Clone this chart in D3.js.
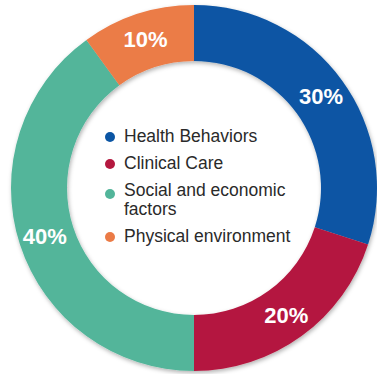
<!DOCTYPE html>
<html>
<head>
<meta charset="utf-8">
<script src="https://cdn.jsdelivr.net/npm/d3@7"></script>
<style>
  body { margin: 0; background: #fff; }
  svg { display: block; }
</style>
</head>
<body>
<div id="donut"></div>
<script>
// chart data
const categories = ["Health Behaviors", "Clinical Care", "Social and economic factors", "Physical environment"];
const shares = [30, 20, 40, 10];
const sliceLabels = ["30%", "20%", "40%", "10%"];
const legendLines = [["Health Behaviors"], ["Clinical Care"], ["Social and economic", "factors"], ["Physical environment"]];
const colors = ["#0b55a4", "#b4183f", "#52b59a", "#eb7b46"];

const width = 377, height = 374;
const cx = 194, cy = 188;
const outerR = 183, innerR = 127;

const svg = d3.select("#donut")
    .append("svg")
    .attr("width", width)
    .attr("height", height);

// soft shadow under the ring
const defs = svg.append("defs");
const shadow = defs.append("filter")
    .attr("id", "ringShadow")
    .attr("x", "-10%").attr("y", "-10%")
    .attr("width", "120%").attr("height", "120%");
shadow.append("feDropShadow")
    .attr("dx", 1).attr("dy", 2)
    .attr("stdDeviation", 2)
    .attr("flood-color", "#000")
    .attr("flood-opacity", 0.3);

const g = svg.append("g")
    .attr("transform", "translate(" + cx + "," + cy + ")");

const data = categories.map((c, i) => ({name: c, value: shares[i], label: sliceLabels[i], color: colors[i], lines: legendLines[i]}));

const pie = d3.pie()
    .sort(null)
    .value(d => d.value);

const arc = d3.arc()
    .innerRadius(innerR)
    .outerRadius(outerR);

const labelArc = d3.arc()
    .innerRadius((innerR + outerR) / 2 + 2)
    .outerRadius((innerR + outerR) / 2 + 2);

const arcs = pie(data);

g.append("g")
    .attr("filter", "url(#ringShadow)")
    .selectAll("path")
    .data(arcs)
    .enter().append("path")
    .attr("d", arc)
    .attr("fill", d => d.data.color);

// percentage labels on the ring
g.selectAll(".pct")
    .data(arcs)
    .enter().append("text")
    .attr("class", "pct")
    .attr("transform", d => "translate(" + labelArc.centroid(d) + ")")
    .attr("text-anchor", "middle")
    .attr("dy", "0.36em")
    .style("font-family", "'Liberation Sans', Arial, sans-serif")
    .style("font-weight", "bold")
    .style("font-size", "22px")
    .style("fill", "#fff")
    .text(d => d.data.label);

// legend in the hole
const legendX = 110, textX = 124;
const rowGap = 27, lineGap = 19, firstRow = 136;
let yPos = firstRow;
data.forEach(d => {
    d.y = yPos;
    yPos += rowGap + (d.lines.length - 1) * lineGap;
});

const rows = svg.append("g").selectAll(".row")
    .data(data)
    .enter().append("g")
    .attr("class", "row");

rows.append("circle")
    .attr("cx", legendX)
    .attr("cy", d => d.y + 1 + (d.lines.length > 1 ? 3 : 0))
    .attr("r", 5)
    .attr("fill", d => d.color);

rows.selectAll("text")
    .data(d => d.lines.map((ln, j) => ({ln: ln, y: d.y + j * lineGap})))
    .enter().append("text")
    .attr("x", textX)
    .attr("y", t => t.y)
    .attr("dy", "0.36em")
    .style("font-family", "'Liberation Sans', Arial, sans-serif")
    .style("font-size", "17.5px")
    .style("fill", "#2a2a2a")
    .text(t => t.ln);
</script>
</body>
</html>
